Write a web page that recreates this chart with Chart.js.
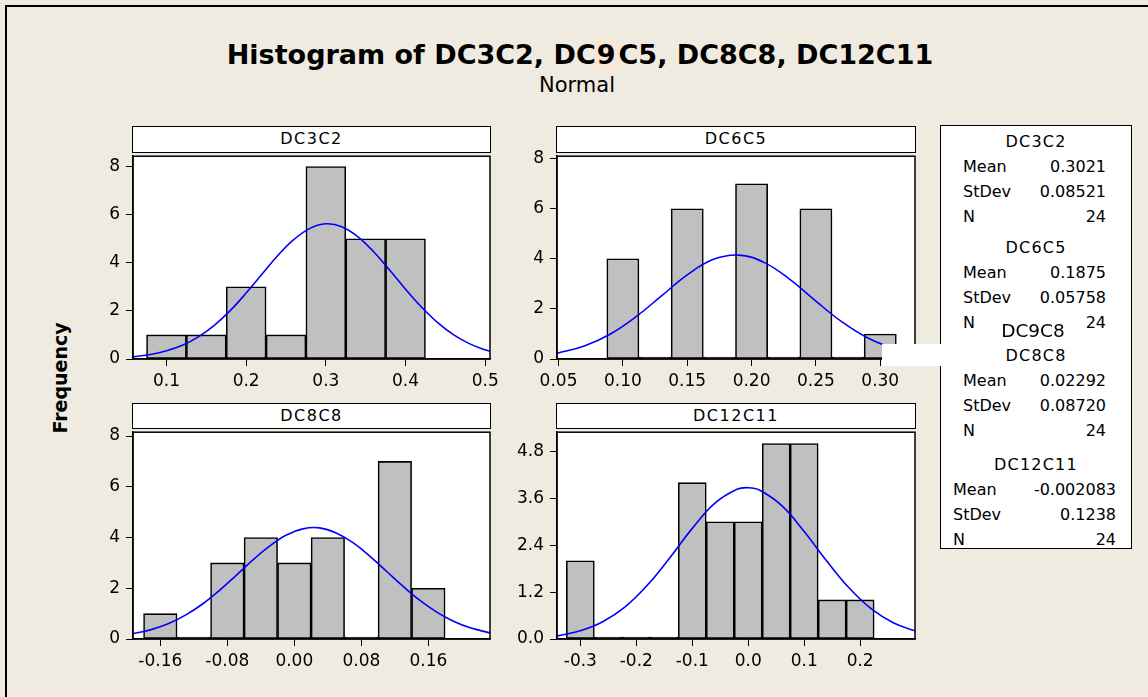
<!DOCTYPE html>
<html>
<head>
<meta charset="utf-8">
<script src="https://cdn.jsdelivr.net/npm/chart.js@4.4.1/dist/chart.umd.min.js"></script>
<style>
  body { margin: 0; background: #efebe0; font-family: 'DejaVu Sans', sans-serif; color: #000; }
  #page { position: relative; width: 1148px; height: 697px; overflow: hidden; background: #efebe0; }
  #frame { position: absolute; left: 5px; top: 5px; width: 1200px; height: 760px; border-left: 2px solid #000; border-top: 2px solid #000; }
  #title { position: absolute; left: 0; width: 1160px; top: 39px; text-align: center; font-weight: bold; font-size: 27px; line-height: 32px; white-space: nowrap; }
  #title .hl { background: #fbe6d6; padding: 0 3px 0 1px; }
  #subtitle { position: absolute; left: 0; width: 1154px; top: 73px; text-align: center; font-size: 21px; line-height: 24px; }
  #freq { position: absolute; left: 60px; top: 378px; transform: translate(-50%, -50%) rotate(-90deg); font-weight: bold; font-size: 19px; white-space: nowrap; }
  .strip { position: absolute; background: #fff; border: 1.5px solid #000; box-sizing: border-box; text-align: center; font-size: 16px; letter-spacing: 1.5px; }
  canvas { position: absolute; }
  #legend { position: absolute; left: 940px; top: 125px; width: 192px; height: 424px; background: #fff; border: 1.5px solid #000; box-sizing: border-box; }
  .lg { position: absolute; font-size: 16px; line-height: 20px; transform: translateY(-50%); white-space: nowrap; }
  .lg.hd { letter-spacing: 1.2px; }
  #patch { position: absolute; left: 882px; top: 344px; width: 61px; height: 22px; background: #fff; }
  #extra { position: absolute; left: 1033px; top: 330px; transform: translate(-50%, -50%); font-size: 18.5px; white-space: nowrap; }
</style>
</head>
<body>
<div id="page">
  <div id="frame"></div>
  <div id="title">Histogram of DC3C2, DC<span class="hl">9</span>C5, DC8C8, DC12C11</div>
  <div id="subtitle">Normal</div>
  <div id="freq">Frequency</div>
  <div id="legend"></div>
</div>
<script>
// ---- data ----
const dc3c2Bins = [0.10, 0.15, 0.20, 0.25, 0.30, 0.35, 0.40];
const dc3c2Counts = [1, 1, 3, 1, 8, 5, 5];
const dc3c2CurveX = [0.058, 0.08, 0.10, 0.12, 0.14, 0.16, 0.18, 0.20, 0.22, 0.24, 0.26, 0.28, 0.30, 0.32, 0.34, 0.36, 0.38, 0.40, 0.42, 0.44, 0.46, 0.48, 0.50, 0.506];
const dc3c2CurveY = [0.09, 0.19, 0.34, 0.57, 0.92, 1.40, 2.01, 2.74, 3.53, 4.31, 4.97, 5.43, 5.62, 5.50, 5.09, 4.46, 3.70, 2.90, 2.16, 1.52, 1.01, 0.64, 0.38, 0.33];
const dc3c2XTicks = [0.1, 0.2, 0.3, 0.4, 0.5];
const dc3c2YTicks = [0, 2, 4, 6, 8];

const dc6c5Bins = [0.10, 0.125, 0.15, 0.175, 0.20, 0.225, 0.25, 0.275, 0.30];
const dc6c5Counts = [4, 0, 6, 0, 7, 0, 6, 0, 1];
const dc6c5CurveX = [0.049, 0.07, 0.09, 0.11, 0.13, 0.15, 0.17, 0.19, 0.21, 0.23, 0.25, 0.27, 0.29, 0.31, 0.327];
const dc6c5CurveY = [0.23, 0.52, 0.99, 1.68, 2.52, 3.36, 3.97, 4.15, 3.85, 3.17, 2.31, 1.49, 0.85, 0.43, 0.22];
const dc6c5XTicks = [0.05, 0.10, 0.15, 0.20, 0.25, 0.30];
const dc6c5YTicks = [0, 2, 4, 6, 8];

const dc8c8Bins = [-0.16, -0.12, -0.08, -0.04, 0.00, 0.04, 0.08, 0.12, 0.16];
const dc8c8Counts = [1, 0, 3, 4, 3, 4, 0, 7, 2];
const dc8c8CurveX = [-0.1926, -0.17, -0.15, -0.13, -0.11, -0.09, -0.07, -0.05, -0.03, -0.01, 0.01, 0.03, 0.05, 0.07, 0.09, 0.11, 0.13, 0.15, 0.17, 0.19, 0.21, 0.2336];
const dc8c8CurveY = [0.21, 0.38, 0.61, 0.94, 1.37, 1.90, 2.49, 3.10, 3.65, 4.09, 4.34, 4.38, 4.18, 3.80, 3.27, 2.67, 2.07, 1.52, 1.06, 0.70, 0.44, 0.24];
const dc8c8XTicks = [-0.16, -0.08, 0.00, 0.08, 0.16];
const dc8c8YTicks = [0, 2, 4, 6, 8];

const dc12c11Bins = [-0.30, -0.25, -0.20, -0.15, -0.10, -0.05, 0.00, 0.05, 0.10, 0.15, 0.20];
const dc12c11Counts = [2, 0, 0, 0, 4, 3, 3, 5, 5, 1, 1];
const dc12c11CurveX = [-0.3417, -0.30, -0.26, -0.22, -0.18, -0.14, -0.10, -0.06, -0.02, 0.00, 0.02, 0.06, 0.10, 0.14, 0.18, 0.22, 0.26, 0.298];
const dc12c11CurveY = [0.08, 0.21, 0.44, 0.82, 1.38, 2.08, 2.83, 3.47, 3.83, 3.87, 3.81, 3.41, 2.75, 2.00, 1.31, 0.77, 0.41, 0.21];
const dc12c11XTicks = [-0.3, -0.2, -0.1, 0.0, 0.1, 0.2];
const dc12c11YTicks = [0, 1.2, 2.4, 3.6, 4.8];

const statNames = ['DC3C2', 'DC6C5', 'DC8C8', 'DC12C11'];
const statMeans = ['0.3021', '0.1875', '0.02292', '-0.002083'];
const statStdevs = ['0.08521', '0.05758', '0.08720', '0.1238'];
const statNs = ['24', '24', '24', '24'];

// ---- layout ----
const PAD_L = 60, PAD_T = 12, PAD_R = 20, AXIS_H = 40;

const panels = [
  { name: 'DC3C2', bins: dc3c2Bins, counts: dc3c2Counts, cx: dc3c2CurveX, cy: dc3c2CurveY,
    xTicks: dc3c2XTicks, yTicks: dc3c2YTicks, xMin: 0.058, xMax: 0.506, yMax: 8.43, xDec: 1, yDec: 0,
    left: 133, top: 152, right: 490, bottom: 359, strip: 126 },
  { name: 'DC6C5', bins: dc6c5Bins, counts: dc6c5Counts, cx: dc6c5CurveX, cy: dc6c5CurveY,
    xTicks: dc6c5XTicks, yTicks: dc6c5YTicks, xMin: 0.0488, xMax: 0.327, yMax: 8.1, xDec: 2, yDec: 0,
    left: 557, top: 152, right: 915, bottom: 359, strip: 126 },
  { name: 'DC8C8', bins: dc8c8Bins, counts: dc8c8Counts, cx: dc8c8CurveX, cy: dc8c8CurveY,
    xTicks: dc8c8XTicks, yTicks: dc8c8YTicks, xMin: -0.1926, xMax: 0.2336, yMax: 8.15, xDec: 2, yDec: 0,
    left: 133, top: 428, right: 490, bottom: 639, strip: 403 },
  { name: 'DC12C11', bins: dc12c11Bins, counts: dc12c11Counts, cx: dc12c11CurveX, cy: dc12c11CurveY,
    xTicks: dc12c11XTicks, yTicks: dc12c11YTicks, xMin: -0.3417, xMax: 0.298, yMax: 5.29, xDec: 1, yDec: 1,
    left: 557, top: 428, right: 915, bottom: 639, strip: 403 }
];

Chart.defaults.font.family = "'DejaVu Sans', sans-serif";
Chart.defaults.font.size = 17;
Chart.defaults.color = '#000';

// white plot area + black frame round it
const framePlugin = {
  id: 'frame',
  beforeDraw(chart) {
    const { ctx, chartArea: a } = chart;
    ctx.save();
    ctx.fillStyle = '#fff';
    ctx.fillRect(a.left, a.top, a.right - a.left, a.bottom - a.top);
    ctx.restore();
  },
  afterDraw(chart) {
    const { ctx, chartArea: a } = chart;
    ctx.save();
    ctx.strokeStyle = '#000';
    ctx.lineWidth = 1.5;
    ctx.strokeRect(a.left, a.top, a.right - a.left, a.bottom - a.top);
    ctx.restore();
  }
};

const page = document.getElementById('page');

panels.forEach(p => {
  const w = p.right - p.left, h = p.bottom - p.top;

  const strip = document.createElement('div');
  strip.className = 'strip';
  strip.style.left = (p.left - 0.75) + 'px';
  strip.style.top = p.strip + 'px';
  strip.style.width = (w + 1.5) + 'px';
  strip.style.height = (p.top - p.strip + 1) + 'px';
  strip.style.lineHeight = (p.top - p.strip - 2) + 'px';
  strip.textContent = p.name;
  page.appendChild(strip);

  const cv = document.createElement('canvas');
  cv.width = w + PAD_L + PAD_R;
  cv.height = h + PAD_T + AXIS_H;
  cv.style.left = (p.left - PAD_L) + 'px';
  cv.style.top = (p.top - PAD_T) + 'px';
  page.appendChild(cv);

  new Chart(cv, {
    type: 'bar',
    data: {
      datasets: [
        {
          type: 'line',
          data: p.cx.map((x, i) => ({ x: x, y: p.cy[i] })),
          borderColor: '#0000ff', borderWidth: 1.6, pointRadius: 0, tension: 0.4, fill: false, order: 0
        },
        {
          type: 'bar',
          data: p.bins.map((x, i) => ({ x: x, y: p.counts[i] })),
          backgroundColor: c => (c.raw && c.raw.y === 0 ? '#000' : '#c0c0c0'),
          borderColor: '#000', borderWidth: 1.6, borderSkipped: false,
          minBarLength: 2, barPercentage: 1, categoryPercentage: 1, order: 1
        }
      ]
    },
    options: {
      responsive: false,
      animation: false,
      layout: { padding: { top: PAD_T, right: PAD_R, left: 0, bottom: 0 } },
      plugins: { legend: { display: false }, tooltip: { enabled: false } },
      scales: {
        x: {
          type: 'linear', min: p.xMin, max: p.xMax, offset: false,
          afterBuildTicks: s => { s.ticks = p.xTicks.map(v => ({ value: v })); },
          afterFit: s => { s.height = AXIS_H; },
          ticks: { callback: v => Number(v).toFixed(p.xDec), padding: 5, autoSkip: false, maxRotation: 0 },
          grid: { offset: false, drawOnChartArea: false, drawTicks: true, tickLength: 7, color: '#000', lineWidth: 1 },
          border: { display: true, color: '#000', width: 1.5 }
        },
        y: {
          type: 'linear', min: 0, max: p.yMax,
          afterBuildTicks: s => { s.ticks = p.yTicks.map(v => ({ value: v })); },
          afterFit: s => { s.width = PAD_L; },
          ticks: { callback: v => Number(v).toFixed(p.yDec), padding: 6 },
          grid: { drawOnChartArea: false, drawTicks: true, tickLength: 7, color: '#000', lineWidth: 1 },
          border: { display: true, color: '#000', width: 1.5 }
        }
      }
    },
    plugins: [framePlugin]
  });
});

// ---- stats box ----
const legend = document.getElementById('legend');
const groupTop = [141, 247, 355, 464];
const rowOffset = [25, 50, 75];
const labLeft = [962, 962, 962, 952];
const valRight = [1107, 1107, 1107, 1117];
function addText(cls, text, x, y, alignRight, center) {
  const d = document.createElement('div');
  d.className = 'lg ' + cls;
  d.textContent = text;
  d.style.top = (y - 125) + 'px';
  if (center) { d.style.left = (x - 940) + 'px'; d.style.transform = 'translate(-50%, -50%)'; }
  else if (alignRight) { d.style.right = (1132 - x) + 'px'; }
  else { d.style.left = (x - 940) + 'px'; }
  legend.appendChild(d);
}
statNames.forEach((n, g) => {
  addText('hd', n, 1035, groupTop[g], false, true);
  const labels = ['Mean', 'StDev', 'N'];
  const vals = [statMeans[g], statStdevs[g], statNs[g]];
  labels.forEach((lab, r) => {
    addText('', lab, labLeft[g], groupTop[g] + rowOffset[r], false, false);
    addText('', vals[r], valRight[g], groupTop[g] + rowOffset[r], true, false);
  });
});

// pasted-over bits in the original picture
const patch = document.createElement('div');
patch.id = 'patch';
page.appendChild(patch);
const extra = document.createElement('div');
extra.id = 'extra';
extra.textContent = 'DC9C8';
page.appendChild(extra);
</script>
</body>
</html>
